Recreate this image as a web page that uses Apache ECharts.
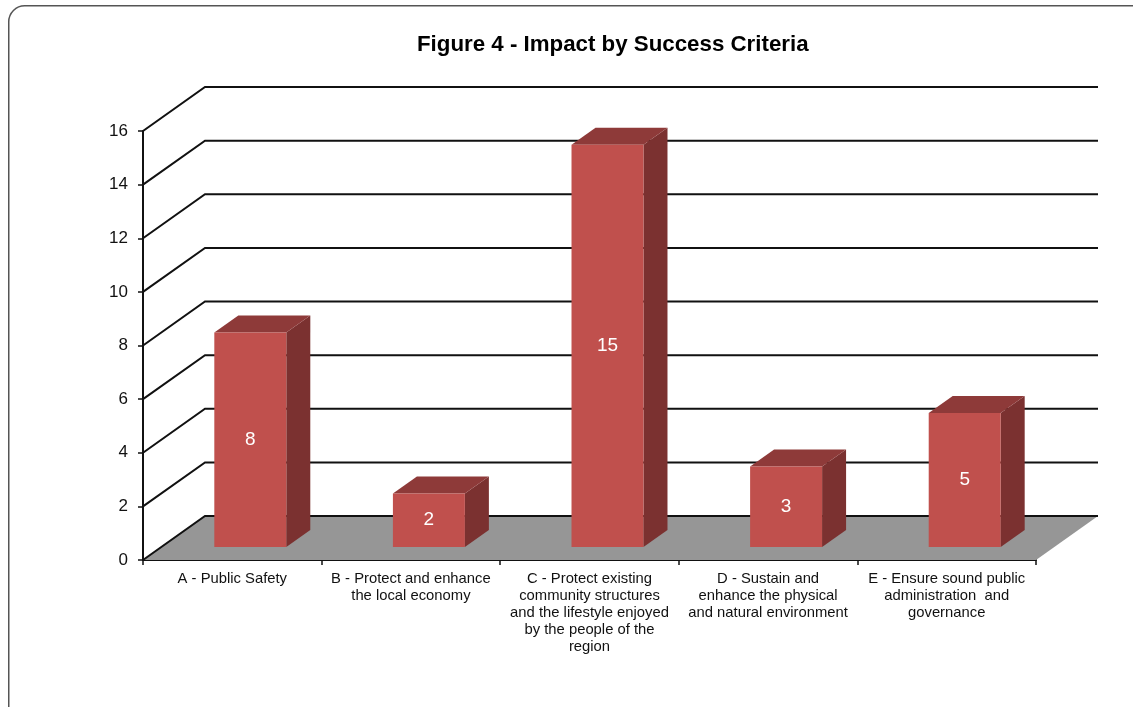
<!DOCTYPE html>
<html>
<head>
<meta charset="utf-8">
<script src="https://cdn.jsdelivr.net/npm/echarts@6/dist/echarts.min.js"></script>
<style>html,body{margin:0;padding:0;background:#fff}#c{width:1133px;height:707px}</style>
</head>
<body>
<div id="c"></div>
<script>
const categories = [
  'A - Public Safety',
  'B - Protect and enhance\nthe local economy',
  'C - Protect existing\ncommunity structures\nand the lifestyle enjoyed\nby the people of the\nregion',
  'D - Sustain and\nenhance the physical\nand natural environment',
  'E - Ensure sound public\nadministration  and\ngovernance'
];
const values = [8, 2, 15, 3, 5];
const yTicks = [0, 2, 4, 6, 8, 10, 12, 14, 16];
const titleText = 'Figure 4 - Impact by Success Criteria';

const FONT = 'Liberation Sans, Arial, sans-serif';
const DEPTH = [62, -44];      // floor / wall depth
const BAR_FRONT = [18, -13];  // bar front face offset
const BAR_DEPTH = [24, -17];  // bar thickness
const BAR_W = 0.403;

const chart = echarts.init(document.getElementById('c'), null, {renderer: 'canvas'});
chart.setOption({
  animation: false,
  backgroundColor: '#fff',
  graphic: [{
    type: 'rect', left: 8, top: 5, z: -10,
    shape: {width: 1160, height: 740, r: 16},
    style: {fill: '#fff', stroke: '#555', lineWidth: 1.5}
  }],
  title: {
    text: titleText, left: 412, top: 29,
    textStyle: {fontFamily: FONT, fontSize: 22.3, fontWeight: 'bold', color: '#000'}
  },
  grid: {left: 143, top: 131, width: 893, height: 429},
  xAxis: [{
    type: 'category', data: categories,
    axisLine: {lineStyle: {color: '#111', width: 2}},
    axisTick: {show: true, length: 5, lineStyle: {color: '#111', width: 1.5}},
    axisLabel: {fontFamily: FONT, fontSize: 14.8, color: '#111', lineHeight: 17, margin: 10, interval: 0}
  }, {
    type: 'value', min: 0, max: 5, show: false
  }],
  yAxis: {
    type: 'value', min: 0, max: 16, interval: 2,
    axisLine: {show: true, lineStyle: {color: '#111', width: 2}},
    axisTick: {show: true, length: 5, lineStyle: {color: '#111', width: 1.5}},
    axisLabel: {fontFamily: FONT, fontSize: 17, color: '#111', margin: 15},
    splitLine: {show: false}
  },
  series: [{
    type: 'custom', xAxisIndex: 1, z: 1, silent: true,
    data: [[0]],
    renderItem: function (params, api) {
      const a = api.coord([0, 0]), b = api.coord([5, 0]);
      return {
        type: 'polygon',
        shape: {points: [a, b, [b[0] + DEPTH[0], b[1] + DEPTH[1]], [a[0] + DEPTH[0], a[1] + DEPTH[1]]]},
        style: {fill: '#969696'}
      };
    }
  }, {
    type: 'custom', xAxisIndex: 1, z: 2, silent: true,
    data: yTicks.map(v => [v]),
    renderItem: function (params, api) {
      const v = api.value(0);
      const a = api.coord([0, v]), b = api.coord([5, v]);
      return {
        type: 'polyline',
        shape: {points: [a, [a[0] + DEPTH[0], a[1] + DEPTH[1]], [b[0] + DEPTH[0], b[1] + DEPTH[1]]]},
        style: {stroke: '#111', lineWidth: 2, fill: null}
      };
    }
  }, {
    type: 'custom', xAxisIndex: 0, z: 5, zlevel: 1,
    data: values.map((v, i) => [i, v]),
    renderItem: function (params, api) {
      const i = api.value(0), v = api.value(1);
      const c = api.coord([i, v]), base = api.coord([i, 0]);
      const bw = api.size([1, 0])[0] * BAR_W;
      const x1 = c[0] - bw / 2 + BAR_FRONT[0], x2 = x1 + bw;
      const yt = c[1] + BAR_FRONT[1], yb = base[1] + BAR_FRONT[1];
      const dx = BAR_DEPTH[0], dy = BAR_DEPTH[1];
      return {
        type: 'group',
        children: [{
          type: 'polygon',
          shape: {points: [[x2, yt], [x2 + dx, yt + dy], [x2 + dx, yb + dy], [x2, yb]]},
          style: {fill: '#7B3130'}
        }, {
          type: 'polygon',
          shape: {points: [[x1, yt], [x2, yt], [x2 + dx, yt + dy], [x1 + dx, yt + dy]]},
          style: {fill: '#8E3A39'}
        }, {
          type: 'rect',
          shape: {x: x1, y: yt, width: bw, height: yb - yt},
          style: {fill: '#C0504D'}
        }, {
          type: 'text',
          style: {
            text: String(v), x: (x1 + x2) / 2, y: (yt + yb) / 2,
            align: 'center', verticalAlign: 'middle',
            fill: '#fff', fontFamily: FONT, fontSize: 19
          }
        }]
      };
    }
  }]
});
</script>
</body>
</html>
